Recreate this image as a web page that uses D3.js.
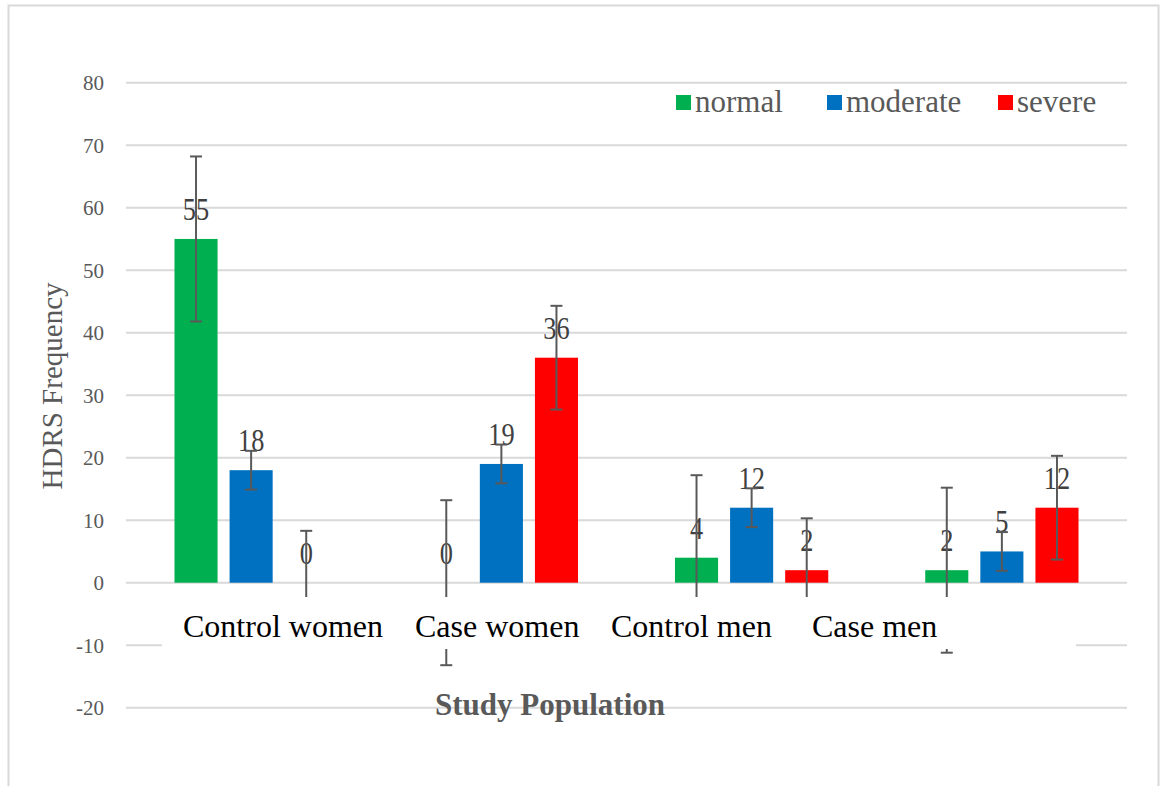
<!DOCTYPE html>
<html>
<head>
<meta charset="utf-8">
<script src="https://cdn.jsdelivr.net/npm/d3@7"></script>
<style>
  html, body { margin: 0; padding: 0; background: #ffffff; }
  svg { display: block; font-family: "Liberation Serif", "Times New Roman", Times, serif; }
  svg text { font-family: "Liberation Serif", "Times New Roman", Times, serif !important; }
</style>
</head>
<body>
<svg id="chart" width="1163" height="786"></svg>
<script>
// ---- data ----
const categories = ["Control women", "Case women", "Control men", "Case men"];
const seriesNames = ["normal", "moderate", "severe"];
const normalValues   = [55, 0, 4, 2];
const moderateValues = [18, 19, 12, 5];
const severeValues   = [0, 36, 2, 12];
const normalErrors   = [13.2, 13.2, 13.2, 13.2];
const moderateErrors = [3.1, 3.1, 3.1, 3.1];
const severeErrors   = [8.3, 8.3, 8.3, 8.3];
const yTicks = [-20, -10, 0, 10, 20, 30, 40, 50, 60, 70, 80];

// ---- layout / style ----
const FONT = "'Liberation Serif', 'Times New Roman', Times, serif";
const colors = { normal: "#00B050", moderate: "#0070C0", severe: "#FF0000" };
const plot = { left: 126, right: 1127, top: 82.7, bottom: 707.7 };
const catLabelX = [183, 415, 611, 812];
const legendX = [676, 827, 998];

const svg = d3.select("#chart");

// outer frame
svg.append("rect")
  .attr("x", 8.5).attr("y", 5.5)
  .attr("width", 1150).attr("height", 820)
  .attr("fill", "#ffffff")
  .attr("stroke", "#d9d9d9").attr("stroke-width", 2);

const valuesBySeries = { normal: normalValues, moderate: moderateValues, severe: severeValues };
const errorsBySeries = { normal: normalErrors, moderate: moderateErrors, severe: severeErrors };

const rows = [];
categories.forEach((c, i) => {
  seriesNames.forEach(s => {
    rows.push({ cat: c, series: s, value: valuesBySeries[s][i], err: errorsBySeries[s][i] });
  });
});

const x0 = d3.scaleBand().domain(categories).range([plot.left, plot.right]).padding(0);
const x1 = d3.scaleBand().domain(seriesNames).range([0, x0.bandwidth()])
  .paddingInner(0.218).paddingOuter(0.88);
const y = d3.scaleLinear().domain([-20, 80]).range([plot.bottom, plot.top]);

// gridlines
svg.append("g").selectAll("line").data(yTicks).join("line")
  .attr("x1", plot.left).attr("x2", plot.right)
  .attr("y1", d => y(d)).attr("y2", d => y(d))
  .attr("stroke", "#d9d9d9").attr("stroke-width", 2);

// y-axis tick labels
const yAxis = d3.axisLeft(y).tickValues(yTicks).tickSize(0).tickPadding(0)
  .tickFormat(d => String(d));
const yg = svg.append("g").attr("transform", "translate(104,0)").call(yAxis);
yg.attr("font-family", FONT).attr("font-size", 21);
yg.select(".domain").remove();
yg.selectAll("text")
  .attr("fill", "#595959")
  .style("font-family", FONT)
  .style("font-size", "21px")
  .attr("dy", "0.34em");

// bars
svg.append("g").selectAll("rect").data(rows).join("rect")
  .attr("x", d => x0(d.cat) + x1(d.series))
  .attr("width", x1.bandwidth())
  .attr("y", d => y(Math.max(0, d.value)))
  .attr("height", d => Math.abs(y(d.value) - y(0)))
  .attr("fill", d => colors[d.series]);

// data labels
svg.append("g").selectAll("text").data(rows).join("text")
  .attr("transform", d => `translate(${x0(d.cat) + x1(d.series) + x1.bandwidth() / 2},${y(d.value) - 19}) scale(0.85,1)`)
  .attr("text-anchor", "middle")
  .attr("fill", "#404040")
  .style("font-family", FONT)
  .style("font-size", "31px")
  .text(d => d.value);

// error bars
const eb = svg.append("g").attr("stroke", "#595959").attr("stroke-width", 2);
rows.forEach(d => {
  const cx = x0(d.cat) + x1(d.series) + x1.bandwidth() / 2;
  eb.append("line").attr("x1", cx).attr("x2", cx)
    .attr("y1", y(d.value + d.err)).attr("y2", y(d.value - d.err));
  [d.value + d.err, d.value - d.err].forEach(v => {
    eb.append("line").attr("x1", cx - 6).attr("x2", cx + 6)
      .attr("y1", y(v)).attr("y2", y(v));
  });
});

// category label box
svg.append("rect")
  .attr("x", 162).attr("y", 597)
  .attr("width", 1076 - 162).attr("height", 52)
  .attr("fill", "#ffffff");

svg.append("g").selectAll("text").data(categories).join("text")
  .attr("x", (d, i) => catLabelX[i])
  .attr("y", 637)
  .attr("fill", "#000000")
  .style("font-family", FONT)
  .style("font-size", "32px")
  .text(d => d);

// x-axis title
svg.append("text")
  .attr("x", 550).attr("y", 715)
  .attr("text-anchor", "middle")
  .attr("fill", "#595959")
  .style("font-family", FONT)
  .style("font-size", "31px")
  .style("font-weight", "bold")
  .text("Study Population");

// y-axis title
svg.append("text")
  .attr("transform", "translate(62,386) rotate(-90)")
  .attr("text-anchor", "middle")
  .attr("fill", "#595959")
  .style("font-family", FONT)
  .style("font-size", "29px")
  .text("HDRS Frequency");

// legend
const lg = svg.append("g").selectAll("g").data(seriesNames).join("g")
  .attr("transform", (d, i) => `translate(${legendX[i]},0)`);
lg.append("rect")
  .attr("x", 0).attr("y", 95)
  .attr("width", 15).attr("height", 15)
  .attr("fill", d => colors[d]);
lg.append("text")
  .attr("x", 19).attr("y", 112)
  .attr("fill", "#595959")
  .style("font-family", FONT)
  .style("font-size", "31px")
  .text(d => d);
</script>
</body>
</html>
